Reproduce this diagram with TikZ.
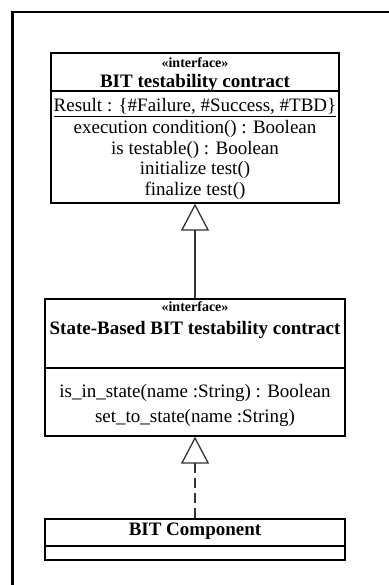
\documentclass[tikz,border=0pt]{standalone}
\usepackage{fontspec}
\setmainfont{Liberation Serif}
\usetikzlibrary{arrows.meta}

\begin{document}
\begin{tikzpicture}[x=1pt, y=-1pt,
  classbox/.style={draw, line width=1.3pt, inner sep=0pt},
  entry/.style={inner sep=0pt, text height=13pt, text depth=4pt, font=\fontsize{19}{21}\selectfont},
  classname/.style={entry, text height=12pt, font=\fontsize{19}{21}\selectfont\bfseries},
  stereo/.style={inner sep=0pt, text height=10pt, text depth=1pt, font=\fontsize{14}{16}\selectfont\bfseries},
  inherit/.style={line width=1.3pt, draw=black!80, -{Triangle[open, width=28pt, length=27pt, line width=1.3pt]}},
  realize/.style={inherit, dash pattern=on 10pt off 5pt}]
\useasboundingbox (0,0) rectangle (388,585);
\draw[line width=2.5pt] (12.5,600) -- (12.5,12) -- (400,12);

% interface: BIT testability contract
\node[classbox, minimum width=288pt, minimum height=150pt] (contract) at (195,128) {};
\draw[line width=1.3pt] (contract.west |- 0,91) -- (contract.east |- 0,91);
\node[stereo] (contractstereo) at (195,63) {«interface»};
\node[classname] (contractname) at (195,83.5) {BIT testability contract};
\node[entry] (result) at (195,107) {\underline{Result : \{\#Failure, \#Success, \#TBD\}}};
\node[entry] (execcond) at (195,129) {execution condition() : Boolean};
\node[entry] (testable) at (195,150) {is testable() : Boolean};
\node[entry] (inittest) at (195,170.5) {initialize test()};
\node[entry] (finaltest) at (195,191.5) {finalize test()};

% interface: State-Based BIT testability contract
\node[classbox, minimum width=300pt, minimum height=137pt] (statebased) at (195,367.5) {};
\draw[line width=1.3pt] (statebased.west |- 0,368) -- (statebased.east |- 0,368);
\node[stereo] (statestereo) at (195,306.5) {«interface»};
\node[classname] (statename) at (195,330) {State-Based BIT testability contract};
\node[entry] (isinstate) at (195,393) {is\_in\_state(name :String) : Boolean};
\node[entry] (settostate) at (195,418) {set\_to\_state(name :String)};

% class: BIT Component
\node[classbox, minimum width=300pt, minimum height=41pt] (component) at (195,539.5) {};
\draw[line width=1.3pt] (component.west |- 0,546) -- (component.east |- 0,546);
\node[classname] (componentname) at (195,531.5) {BIT Component};

\draw[inherit] (statebased.north) -- (contract.south);
\draw[realize] (component.north) -- (statebased.south);
\end{tikzpicture}
\end{document}
